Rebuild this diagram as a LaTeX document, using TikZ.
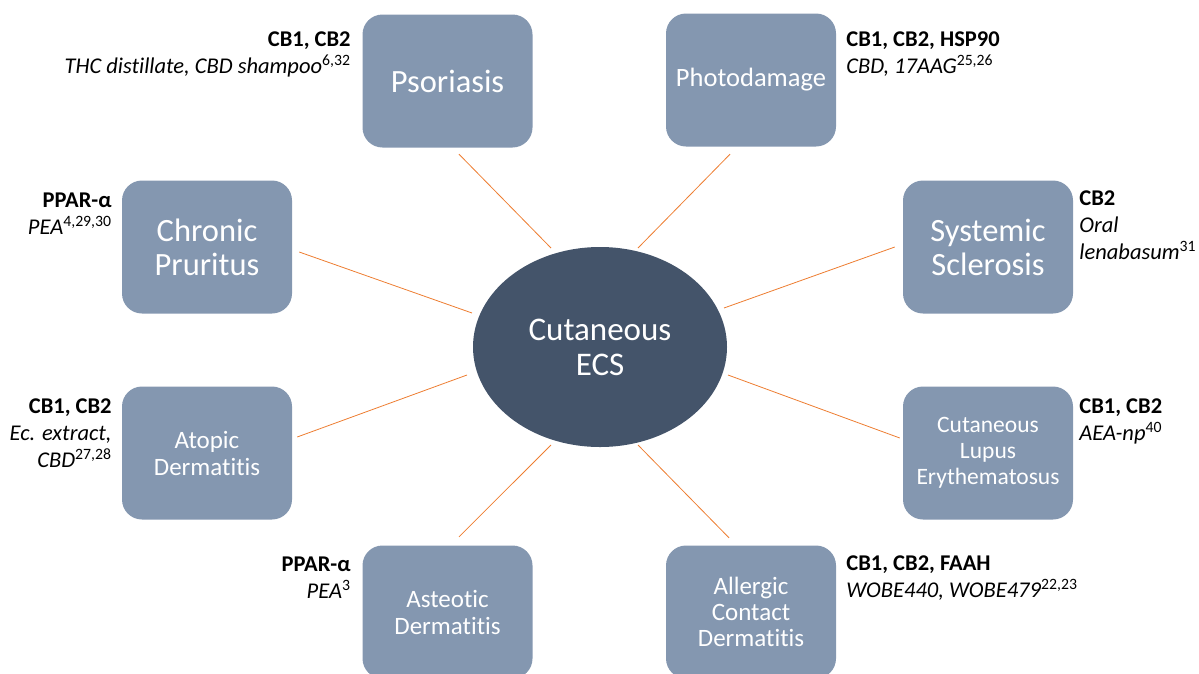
\documentclass[tikz,border=0pt]{standalone}
\usepackage{fontspec}
\setmainfont{Carlito}[Ligatures={NoCommon}]
\usetikzlibrary{shapes.geometric}
\definecolor{boxblue}{HTML}{8497B0}
\definecolor{hubblue}{HTML}{44546A}
\definecolor{linkorange}{HTML}{ED7D31}

\begin{document}
\begin{tikzpicture}[x=1pt, y=-1pt,
    disease/.style={rectangle, rounded corners=20pt, fill=boxblue, text=white,
        minimum width=170pt, minimum height=133pt, align=center, inner sep=2pt},
    hub/.style={ellipse, fill=hubblue, text=white, minimum width=254pt,
        minimum height=200pt, align=center, inner sep=0pt,
        font=\fontsize{33}{35}\selectfont},
    note/.style={inner sep=0pt, font=\fontsize{22.5}{27}\selectfont},
    link/.style={draw=linkorange, line width=0.8pt}]
    \useasboundingbox (0,0) rectangle (1199,673);
    \clip (0,0) rectangle (1199,673);
    % centre
    \node[hub] (ecs) at (600,347) {Cutaneous\\ECS};
    % conditions
    \node[disease, font=\fontsize{32.5}{34}\selectfont] (psor) at (447.5,81) {Psoriasis};
    \node[disease, font=\fontsize{26.5}{29}\selectfont] (photo) at (751,80) {Photodamage};
    \node[disease, font=\fontsize{32.5}{34}\selectfont] (chron) at (207,247) {Chronic\\Pruritus};
    \node[disease, font=\fontsize{32.5}{34}\selectfont] (sys) at (988,247) {Systemic\\Sclerosis};
    \node[disease, font=\fontsize{25}{27}\selectfont] (atop) at (207,453) {Atopic\\Dermatitis};
    \node[disease, font=\fontsize{23.5}{26}\selectfont] (lupus) at (988,453) {Cutaneous\\Lupus\\Erythematosus};
    \node[disease, font=\fontsize{25}{27}\selectfont] (ast) at (447.5,612) {Asteotic\\Dermatitis};
    \node[disease, font=\fontsize{25}{26}\selectfont] (aller) at (751,612) {Allergic\\Contact\\Dermatitis};
    % targets and agents
    \node[note, anchor=north east, align=right] (psornote) at ([shift={(-11.5,17)}]psor.north west)
        {\textbf{CB1, CB2}\\\textit{THC distillate, CBD shampoo}\textsuperscript{6,32}};
    \node[note, anchor=north west, align=left] (photonote) at ([shift={(10,18)}]photo.north east)
        {\textbf{CB1, CB2, HSP90}\\\textit{CBD, 17AAG}\textsuperscript{25,26}};
    \node[note, anchor=north east, align=right] (chronnote) at ([shift={(-10,12)}]chron.north west)
        {\textbf{PPAR-α}\\\textit{PEA}\textsuperscript{4,29,30}};
    \node[note, anchor=north west, align=left] (sysnote) at ([shift={(6,10)}]sys.north east)
        {\textbf{CB2}\\\textit{Oral}\\\textit{lenabasum}\textsuperscript{31}};
    \node[note, anchor=north east, align=right] (atopnote) at ([shift={(-10,12)}]atop.north west)
        {\textbf{CB1, CB2}\\\textit{Ec. extract,}\\\textit{CBD}\textsuperscript{27,28}};
    \node[note, anchor=north west, align=left] (lupusnote) at ([shift={(6,12)}]lupus.north east)
        {\textbf{CB1, CB2}\\\textit{AEA-np}\textsuperscript{40}};
    \node[note, anchor=north east, align=right] (astnote) at ([shift={(-11.5,11)}]ast.north west)
        {\textbf{PPAR-α}\\\textit{PEA}\textsuperscript{3}};
    \node[note, anchor=north west, align=left] (allernote) at ([shift={(10,10)}]aller.north east)
        {\textbf{CB1, CB2, FAAH}\\\textit{WOBE440, WOBE479}\textsuperscript{22,23}};
    % spokes
    \draw[link] ([shift={(11.5,6.5)}]psor.south) -- ([shift={(-49,-99)}]ecs.center);
    \draw[link] ([shift={(-21,7.5)}]photo.south) -- ([shift={(38,-99)}]ecs.center);
    \draw[link] ([shift={(7,5)}]chron.east) -- ([shift={(-128,-34)}]ecs.center);
    \draw[link] ([shift={(-8,0)}]sys.west) -- ([shift={(124,-39)}]ecs.center);
    \draw[link] ([shift={(5,-16)}]atop.east) -- ([shift={(-133,28)}]ecs.center);
    \draw[link] ([shift={(-3,-15)}]lupus.west) -- ([shift={(128,28)}]ecs.center);
    \draw[link] ([shift={(11.5,-8.5)}]ast.north) -- ([shift={(-49,98)}]ecs.center);
    \draw[link] ([shift={(-22,-7.5)}]aller.north) -- ([shift={(38,98)}]ecs.center);
\end{tikzpicture}
\end{document}
